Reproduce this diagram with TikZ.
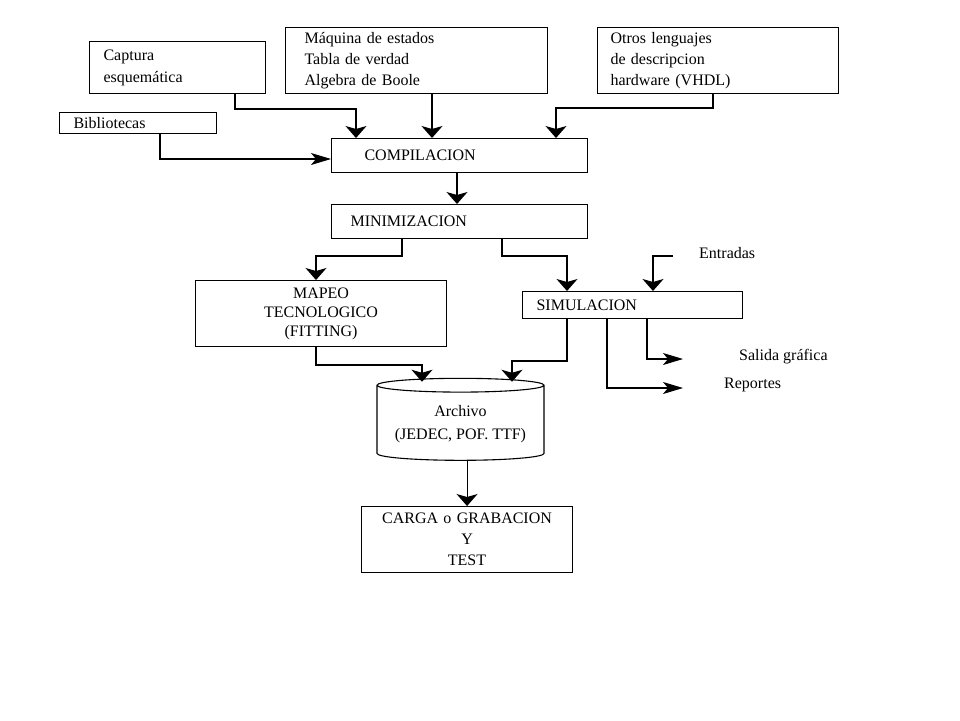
\documentclass[tikz,border=0pt]{standalone}
\usepackage{fontspec}
\setmainfont{Liberation Serif}
\usepackage{tikz}
\usetikzlibrary{arrows.meta}
\usetikzlibrary{shapes.geometric}
\tikzset{
    blk/.style={
        draw,
        rectangle,
        anchor=north west,
        inner ysep=0pt,
        line width=1.1pt,
        font=\fontsize{16}{21}\selectfont
    },
    lbl/.style={
        anchor=west,
        inner sep=0pt,
        font=\fontsize{16}{21}\selectfont
    },
    vlink/.style={
        draw,
        line width=1.1pt,
        -{Stealth[length=12pt, width=21pt, inset=3pt]}
    },
    hlink/.style={
        draw,
        line width=1.1pt,
        -{Stealth[length=20pt, width=12pt, inset=5pt]}
    }
}

\begin{document}
\begin{tikzpicture}[x=1pt, y=-1pt]
  \useasboundingbox (0,0) rectangle (960,720);

  % Entradas de diseno
  \node[blk, minimum width=176pt, minimum height=52pt, inner xsep=14pt, text width=148pt, align=left] (captura) at (89,41) {Captura\\[1pt]esquemática};
  \node[blk, minimum width=262pt, minimum height=66pt, inner xsep=19pt, text width=224pt, align=left] (maquina) at (285,27) {Máquina de estados\\Tabla de verdad\\Algebra de Boole};
  \node[blk, minimum width=241pt, minimum height=66pt, inner xsep=13pt, text width=215pt, align=left] (otros) at (597,27) {Otros lenguajes\\de descripcion\\hardware (VHDL)};
  \node[blk, minimum width=157pt, minimum height=21pt, inner xsep=14pt, text width=129pt, align=left] (biblio) at (59,112) {Bibliotecas};

  % Etapas
  \node[blk, minimum width=256pt, minimum height=34pt, inner xsep=33pt, text width=190pt, align=left] (comp) at (331,138) {COMPILACION};
  \node[blk, minimum width=256pt, minimum height=34pt, inner xsep=19pt, text width=218pt, align=left] (mini) at (331,204) {MINIMIZACION};
  \node[blk, minimum width=251pt, minimum height=66pt, inner xsep=0pt, text width=251pt, align=center] (mapeo) at (195,280) {MAPEO\\[-2pt]TECNOLOGICO\\[-2pt](FITTING)};
  \node[blk, minimum width=220pt, minimum height=27pt, inner xsep=14pt, text width=192pt, align=left] (simul) at (522,291) {SIMULACION};
  \node[draw, cylinder, shape border rotate=90, aspect=0.1, minimum width=167pt, minimum height=82pt, line width=1.1pt, align=center, font=\fontsize{16}{23}\selectfont] (archivo) at (460.5,424) {Archivo\\(JEDEC, POF. TTF)};
  \node[blk, minimum width=211pt, minimum height=66pt, inner xsep=0pt, text width=211pt, align=center] (carga) at (361,506) {CARGA o GRABACION\\Y\\TEST};

  % Textos sueltos
  \node[lbl] (entradas) at (699,253) {Entradas};
  \node[lbl] (salida) at (739,357) {Salida gráfica};
  \node[lbl] (reportes) at (724,385) {Reportes};

  % Hacia la compilacion
  \coordinate (k1) at (235,109);
  \coordinate (k2) at (356,109);
  \draw[vlink] (captura.south -| k1) |- (k2) -- (comp.north -| k2);
  \coordinate (m1) at (432,100);
  \draw[vlink] (maquina.south -| m1) -- (comp.north -| m1);
  \coordinate (o1) at (713,108);
  \coordinate (o2) at (556,108);
  \draw[vlink] (otros.south -| o1) |- (o2) -- (comp.north -| o2);
  \coordinate (b1) at (160,159);
  \draw[hlink] (biblio.south -| b1) -- (b1) -- (comp.west |- b1);

  % Compilacion y minimizacion
  \coordinate (c1) at (457,190);
  \draw[vlink] (comp.south -| c1) -- (mini.north -| c1);
  \coordinate (n1) at (402,256);
  \coordinate (n2) at (316,256);
  \draw[vlink] (mini.south -| n1) |- (n2) -- (mapeo.north -| n2);
  \coordinate (n3) at (502,256);
  \coordinate (n4) at (567,256);
  \draw[vlink] (mini.south -| n3) |- (n4) -- (simul.north -| n4);

  % Entradas y salidas de la simulacion
  \coordinate (e1) at (673,256);
  \coordinate (e2) at (653,256);
  \draw[vlink] (e1) -- (e2) -- (simul.north -| e2);
  \coordinate (s1) at (647,359);
  \coordinate (s2) at (683,359);
  \draw[hlink] (simul.south -| s1) |- (s2);
  \coordinate (r1) at (607,388);
  \coordinate (r2) at (683,388);
  \draw[hlink] (simul.south -| r1) |- (r2);

  % Hacia el archivo y la carga
  \coordinate (a1) at (316,365);
  \coordinate (a2) at (422,365);
  \draw[vlink, shorten >=-4pt] (mapeo.south -| a1) |- (a2) -- (archivo.north -| a2);
  \coordinate (a3) at (567,361);
  \coordinate (a4) at (512,361);
  \draw[vlink, shorten >=-4pt] (simul.south -| a3) |- (a4) -- (archivo.north -| a4);
  \draw[vlink] (archivo.south -| carga.north) -- (carga.north);
\end{tikzpicture}
\end{document}
